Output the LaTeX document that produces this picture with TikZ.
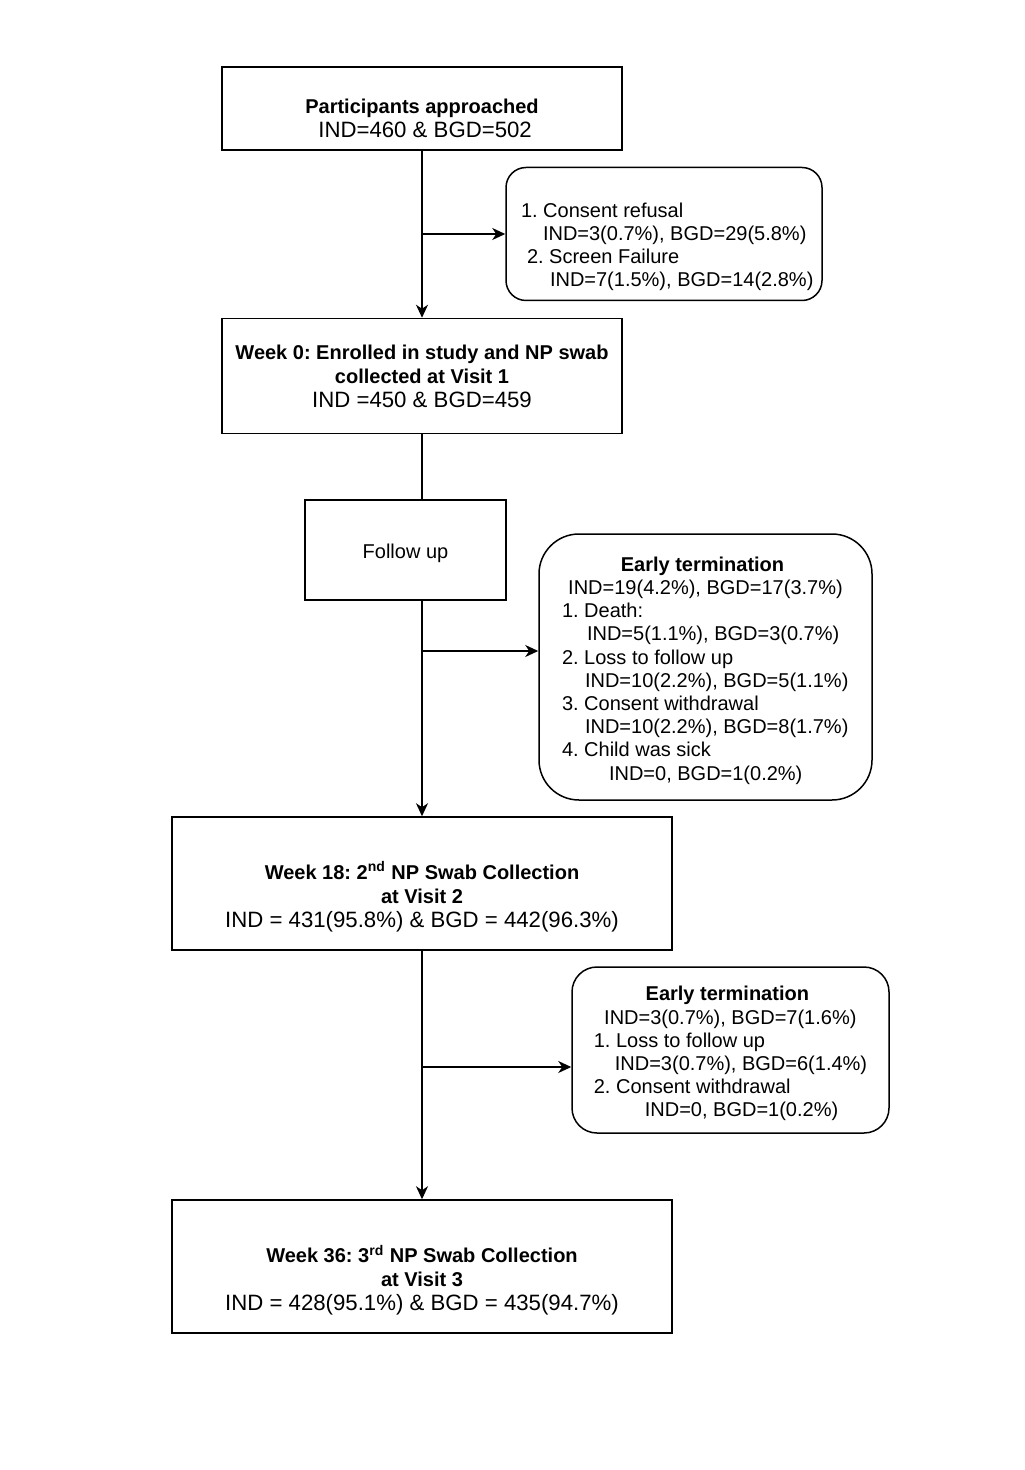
\documentclass[tikz,border=0pt]{standalone}
\usepackage{fontspec}
\setmainfont{Liberation Sans}
\usetikzlibrary{arrows.meta}
\frenchspacing
\newcommand{\bignum}{\fontsize{11.1}{12}\selectfont}
\begin{document}
\begin{tikzpicture}[x=0.5pt,y=-0.5pt,
  every node/.style={font=\fontsize{10}{12}\selectfont},
  flowbox/.style={draw, line width=0.75pt, inner sep=0pt, align=center},
  roundbox/.style={flowbox, rounded corners=#1, align=left},
  link/.style={line width=0.75pt},
  arrowlink/.style={link, -{Stealth[length=6.5pt,width=6pt,inset=2pt]}}
]
\fill[white] (0,0) rectangle (1024,1470);
\useasboundingbox (0,0) rectangle (1024,1470);

\node[flowbox, minimum width=200pt, minimum height=41.5pt] (approached) at (422,108.5)
  {\rule{0pt}{17.3pt}\textbf{Participants approached}\\{\bignum\ IND=460 \& BGD=502}};

\node[roundbox=10pt, minimum width=158pt, minimum height=66.5pt, font=\fontsize{10}{11.5}\selectfont] (exclusion) at (664,234)
  {\rule{0pt}{20pt}1. Consent refusal\\
   \hspace*{11pt}IND=3(0.7\%), BGD=29(5.8\%)\\
   \hspace*{3pt}2. Screen Failure\\
   \makebox[143pt][l]{\hspace*{14.5pt}IND=7(1.5\%), BGD=14(2.8\%)}};

\node[flowbox, minimum width=200pt, minimum height=57.5pt] (enrolled) at (422,376)
  {\textbf{Week 0: Enrolled in study and NP swab}\\\textbf{collected at Visit 1}\\{\bignum IND =450 \& BGD=459}};

\node[flowbox, minimum width=100.5pt, minimum height=50pt] (followup) at (405.5,550) {\rule{0pt}{10.3pt}Follow up};

\node[roundbox=20pt, minimum width=166.5pt, minimum height=133pt, font=\fontsize{10}{11.6}\selectfont] (termA) at (705.5,667)
  {\makebox[143.5pt]{\rule{0pt}{10.8pt}\textbf{Early termination}\hspace*{3pt}}\\
   \makebox[143.5pt]{IND=19(4.2\%), BGD=17(3.7\%)}\\
   1. Death:\\
   \hspace*{12.5pt}IND=5(1.1\%), BGD=3(0.7\%)\\
   2. Loss to follow up\\
   \hspace*{11.5pt}IND=10(2.2\%), BGD=5(1.1\%)\\
   3. Consent withdrawal\\
   \hspace*{11.5pt}IND=10(2.2\%), BGD=8(1.7\%)\\
   4. Child was sick\\
   \hspace*{23.5pt}IND=0, BGD=1(0.2\%)};

\node[flowbox, minimum width=250pt, minimum height=66.5pt] (week18) at (422,883.5)
  {\rule{0pt}{22pt}\textbf{Week 18: 2\textsuperscript{nd} NP Swab Collection}\\\textbf{at Visit 2}\\{\bignum IND = 431(95.8\%) \& BGD = 442(96.3\%)}};

\node[roundbox=12.5pt, minimum width=158.5pt, minimum height=83pt, font=\fontsize{10}{11.6}\selectfont] (termB) at (730.5,1050)
  {\makebox[136.5pt]{\rule{0pt}{11pt}\textbf{Early termination}\hspace*{3pt}}\\
   \makebox[136.5pt]{IND=3(0.7\%), BGD=7(1.6\%)}\\
   1. Loss to follow up\\
   \hspace*{10.5pt}IND=3(0.7\%), BGD=6(1.4\%)\\
   2. Consent withdrawal\\
   \hspace*{25.5pt}IND=0, BGD=1(0.2\%)};

\node[flowbox, minimum width=250pt, minimum height=66.5pt] (week36) at (422,1266.5)
  {\rule{0pt}{22.5pt}\textbf{Week 36: 3\textsuperscript{rd} NP Swab Collection}\\\textbf{at Visit 3}\\{\bignum IND = 428(95.1\%) \& BGD = 435(94.7\%)}};

% connectors
\coordinate (split1) at (422,234);
\coordinate (split2) at (422,651);
\coordinate (split3) at (422,1067);

\draw[arrowlink] (approached.south) -- (enrolled.north);
\draw[arrowlink] (split1) -- (exclusion.west);
\draw[link] (enrolled.south) -- (enrolled.south |- followup.north);
\draw[arrowlink] (followup.south -| enrolled.south) -- (week18.north);
\draw[arrowlink] (split2) -- (split2 -| termA.west);
\draw[arrowlink] (week18.south) -- (week36.north);
\draw[arrowlink] (split3) -- (split3 -| termB.west);
\end{tikzpicture}
\end{document}
